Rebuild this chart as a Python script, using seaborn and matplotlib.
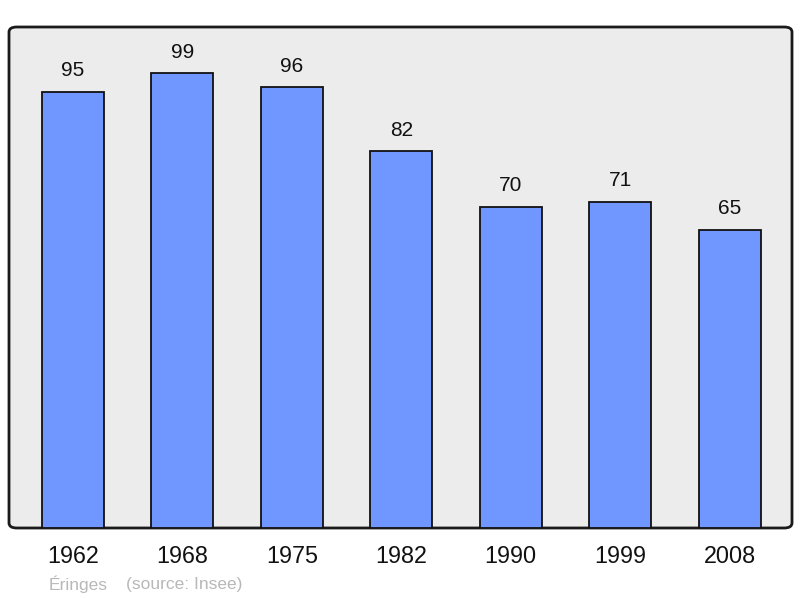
import matplotlib
matplotlib.use("Agg")
import matplotlib.pyplot as plt
from matplotlib.patches import FancyBboxPatch
import seaborn as sns
import pandas as pd

years = ["1962", "1968", "1975", "1982", "1990", "1999", "2008"]
population = [95, 99, 96, 82, 70, 71, 65]

sns.set_theme(style="white")
plt.rcParams['font.family'] = ['Liberation Sans', 'DejaVu Sans']

fig = plt.figure(figsize=(8, 5.98), dpi=100)
W, H = 800, 598
ax = fig.add_axes([9 / W, 1 - 528 / H, (792 - 9) / W, (528 - 27) / H])
ax.patch.set_visible(False)

bg = FancyBboxPatch((0, 0), 1, 1,
                    boxstyle="round,pad=0,rounding_size=0.01",
                    transform=ax.transAxes, facecolor="#ececec",
                    edgecolor="#1a1a1a", linewidth=2, zorder=0, clip_on=False)
ax.add_patch(bg)

df = pd.DataFrame({"year": years, "pop": population})
sns.barplot(data=df, x="year", y="pop", ax=ax, color="#7096ff", saturation=1,
            width=0.567, edgecolor="#111111", linewidth=1.3, zorder=2)

for i, v in enumerate(population):
    ax.text(i, v + 2.5, str(v), ha="center", va="bottom", fontsize=15, color="#111111")

ax.set_xlim(-0.585, 6.571)
ax.set_ylim(0, 109.1)
for s in ax.spines.values():
    s.set_visible(False)
ax.set_yticks([])
ax.set_xlabel("")
ax.set_ylabel("")
ax.tick_params(axis="x", length=0, pad=12.5, labelsize=16.8, labelcolor="#111111")

fig.text(49 / W, 1 - 584 / H, "Éringes", fontsize=12.5, color="#b8b8b8", va="center", ha="left")
fig.text(126 / W, 1 - 584 / H, "(source: Insee)", fontsize=12.5, color="#b8b8b8", va="center", ha="left")

fig.savefig("out.png", dpi=100)
